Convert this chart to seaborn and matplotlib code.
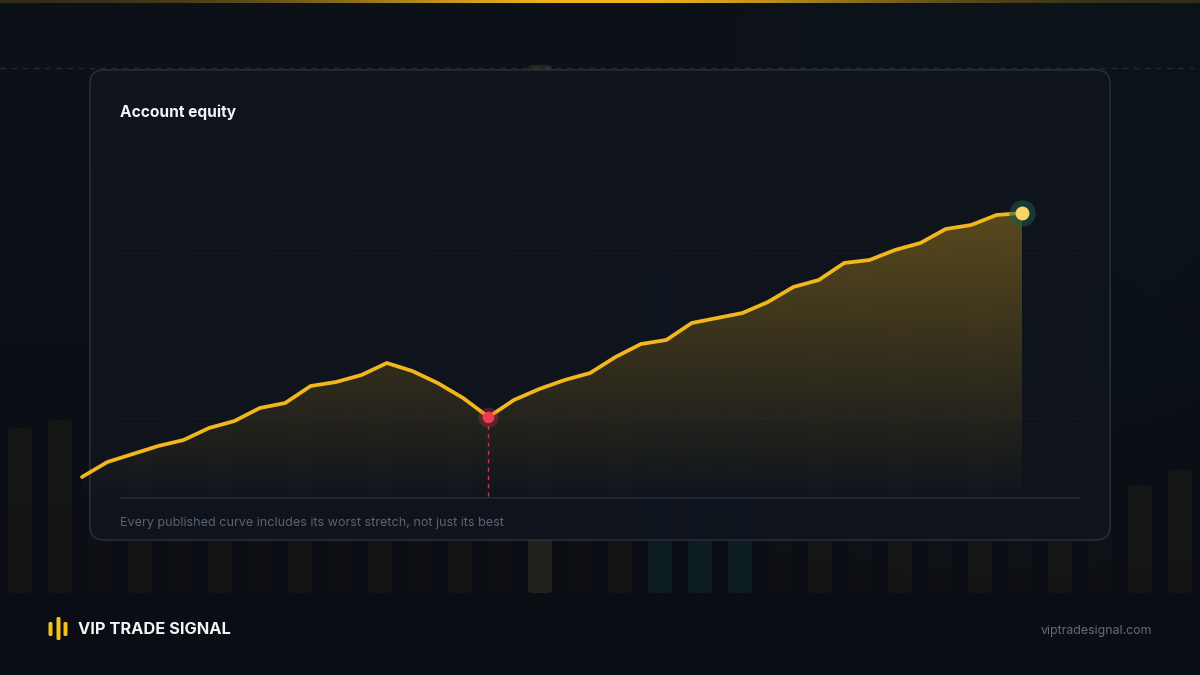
import numpy as np
import pandas as pd
import matplotlib.pyplot as plt
import seaborn as sns
from matplotlib.patches import FancyBboxPatch

sns.set_theme(style="dark")
plt.rcParams['font.family'] = ['Inter', 'DejaVu Sans']

# equity curve (units above the chart floor), one point per period
equity = [21, 36, 44, 52, 58, 70, 77, 90, 95, 112, 116, 123, 135, 127, 115, 100, 81,
          98, 109, 118, 125, 141, 154, 158, 175, 180, 185, 196, 211, 218, 235, 238,
          248, 255, 269, 273, 283, 285]
trough_idx = 16

# faint volume-like bars in the page background
bg_bar_heights = [165, 173, 150, 210, 190, 240, 170, 260, 220, 180, 300, 230, 250, 528, 280,
                  210, 320, 260, 290, 300, 240, 330, 270, 250, 300, 280, 260, 310, 108, 123]
bg_bar_kind = ['gold', 'gold', 'dim', 'gold', 'dim', 'gold', 'dim', 'gold', 'dim', 'gold',
               'dim', 'gold', 'dim', 'hi', 'dim', 'gold', 'green', 'green', 'green', 'dim',
               'gold', 'dim', 'gold', 'dim', 'gold', 'dim', 'gold', 'dim', 'gold', 'gold']

title = 'Account equity'
caption = 'Every published curve includes its worst stretch, not just its best'
brand = 'VIP TRADE SIGNAL'
url = 'viptradesignal.com'

gold = '#f2b71d'
gold_rgb = np.array([242, 183, 29]) / 255
bg_top = np.array([13, 17, 24]) / 255
bg_bot = np.array([10, 13, 20]) / 255

fig = plt.figure(figsize=(12, 6.75), dpi=100)
fig.patch.set_facecolor('#0c1017')

# ---- background ----
ax_bg = fig.add_axes([0, 0, 1, 1])
ax_bg.set_xlim(0, 1200)
ax_bg.set_ylim(675, 0)
ax_bg.axis('off')
H, W = 135, 240
yy, xx = np.mgrid[0:H, 0:W]
t = (yy / (H - 1))[..., None]
img = bg_top * (1 - t) + bg_bot * t
teal = np.exp(-((xx - 200) / 60.0) ** 2 - ((yy - 40) / 50.0) ** 2)[..., None]
img = img + teal * np.array([-1, 4, 3]) / 255
ax_bg.imshow(np.clip(img, 0, 1), extent=(0, 1200, 675, 0), aspect='auto', zorder=0)
ax_bg.plot([0, 1200], [68, 68], color='#242a33', lw=1, ls=(0, (4, 4)), zorder=1)

# top gold rule
gx = np.linspace(0, 1, 400)
top = np.zeros((1, 400, 4))
top[..., :3] = gold_rgb
top[0, :, 3] = 0.15 + 0.85 * np.exp(-((gx - 0.5) / 0.25) ** 2)
ax_bg.imshow(top, extent=(0, 1200, 3, 0), aspect='auto', zorder=2)

# ---- background bars ----
ax_bars = fig.add_axes([0, (675 - 593) / 675, 1, 593 / 675])
ax_bars.set_xlim(-0.5, len(bg_bar_heights) - 0.5)
ax_bars.set_ylim(0, 593)
ax_bars.axis('off')
ax_bars.patch.set_alpha(0)
kind_color = {'gold': (*gold_rgb, 0.045), 'dim': (*gold_rgb, 0.02),
              'green': (0.12, 0.70, 0.52, 0.10), 'hi': (0.72, 0.66, 0.32, 0.14)}
bars = ax_bars.bar(range(len(bg_bar_heights)), bg_bar_heights, width=0.6,
                   color=[kind_color[k] for k in bg_bar_kind], edgecolor='none', linewidth=0)
# swap the plain rectangles for softly rounded ones (1 x unit = 40 px, 1 y unit = 1 px)
for b in bars:
    b.set_visible(False)
    ax_bars.add_patch(FancyBboxPatch((b.get_x(), b.get_y()), b.get_width(), b.get_height(),
                                     boxstyle='round,pad=0,rounding_size=0.1',
                                     mutation_aspect=40,
                                     facecolor=b.get_facecolor(), edgecolor='none'))

# ---- card ----
ax_card = fig.add_axes([0, 0, 1, 1])
ax_card.set_xlim(0, 1200)
ax_card.set_ylim(675, 0)
ax_card.axis('off')
ax_card.patch.set_alpha(0)
card = FancyBboxPatch((90, 70), 1020, 470, boxstyle='round,pad=0,rounding_size=14',
                      facecolor=(15 / 255, 20 / 255, 29 / 255, 0.97),
                      edgecolor='#262d38', lw=1.2, zorder=1)
ax_card.add_patch(card)
for gy in [418, 253]:
    ax_card.plot([120, 1080], [gy, gy], color='#191f28', lw=0.8, ls=(0, (4, 4)), zorder=2)
ax_card.plot([120, 1080], [498, 498], color='#1f2631', lw=1.5, zorder=2)

ax_card.text(120, 112, title, color='#f3f4f6', fontsize=11.2, fontweight='bold',
             va='center', ha='left')
ax_card.text(120, 523, caption, color='#5b6270', fontsize=9.1, va='center', ha='left')

# footer
for x0, y0, y1 in [(48.5, 622, 636), (56.5, 617, 640), (63.5, 622, 636)]:
    ax_card.add_patch(FancyBboxPatch((x0, y0), 4, y1 - y0,
                                     boxstyle='round,pad=0,rounding_size=1.5',
                                     facecolor='#f5c21b', edgecolor='none'))
ax_card.text(78, 630, brand, color='#f3f4f6', fontsize=11.8, fontweight='bold',
             va='center', ha='left')
ax_card.text(1152, 631, url, color='#646b78', fontsize=8.9, va='center', ha='right')

# ---- equity chart ----
ax = fig.add_axes([82 / 1200, (675 - 498) / 675, 940 / 1200, 348 / 675])
ax.set_xlim(0, len(equity) - 1)
ax.set_ylim(0, 348)
ax.axis('off')
ax.patch.set_alpha(0)

df = pd.DataFrame({'step': range(len(equity)), 'equity': equity})

poly = ax.fill_between(df['step'], df['equity'], 0, color='none', lw=0)
grad = np.zeros((256, 1, 4))
grad[..., :3] = gold_rgb
grad[:, 0, 3] = np.linspace(0.01, 0.40, 256)
im = ax.imshow(grad, extent=(0, len(equity) - 1, 0, 348), origin='lower',
               aspect='auto', zorder=1)
im.set_clip_path(poly.get_paths()[0], transform=ax.transData)

sns.lineplot(data=df, x='step', y='equity', ax=ax, color=gold, lw=2.7, zorder=3)
for ln in ax.lines:
    ln.set_clip_on(False)
    ln.set_solid_capstyle('round')
    ln.set_solid_joinstyle('round')

# drawdown trough
tx, ty = trough_idx, equity[trough_idx]
ax.plot([tx, tx], [ty, 0], color='#c23a4b', lw=1, ls=(0, (3, 3)), zorder=2)
ax.scatter([tx], [ty], s=210, color='#e8384f', alpha=0.25, lw=0, zorder=4, clip_on=False)
ax.scatter([tx], [ty], s=70, color='#ee3a52', lw=0, zorder=5, clip_on=False)

# latest value
ex, ey = len(equity) - 1, equity[-1]
ax.scatter([ex], [ey], s=360, color='#1d5a45', alpha=0.55, lw=0, zorder=4, clip_on=False)
ax.scatter([ex], [ey], s=100, color='#f8d567', lw=0, zorder=5, clip_on=False)

fig.savefig('out.png', dpi=100, facecolor=fig.get_facecolor())
